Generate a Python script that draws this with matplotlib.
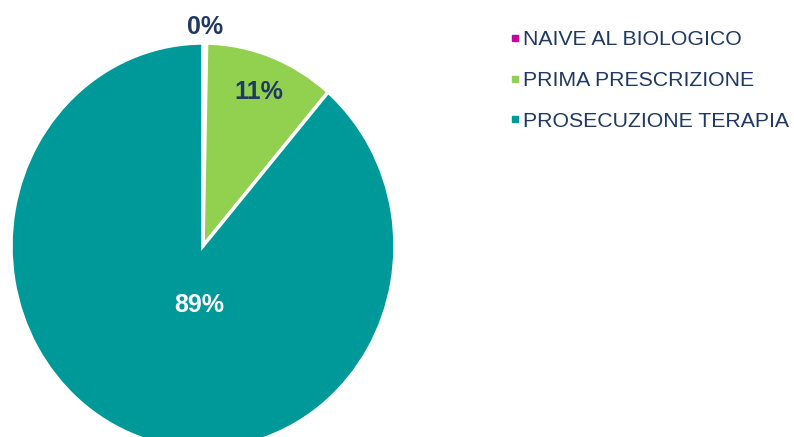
import numpy as np
import matplotlib
matplotlib.use('Agg')
from matplotlib import pyplot as plt
from matplotlib.lines import Line2D

plt.rcParams['font.family'] = ['Liberation Sans', 'DejaVu Sans']

categories = ['NAIVE AL BIOLOGICO', 'PRIMA PRESCRIZIONE', 'PROSECUZIONE TERAPIA']
values = [0.3, 11.0, 88.7]
colors = ['#CC0099', '#92D050', '#009999']
label_colors = ['#1F3864', '#1F3864', 'white']
label_dist = [1.08, 0.81, 0.33]
label_nudge = [(0, 0), (0, 0), (13, 3)]  # points

fig = plt.figure(figsize=(7.94, 4.37), dpi=100)
# pie is slightly stretched vertically: centre ~ (202, 246) px, 191 x 203 px radii
ax = fig.add_axes([11 / 794, -12 / 437, 384 / 794, 406 / 437])

wedges, _ = ax.pie(values, colors=colors, startangle=90, counterclock=False,
                   radius=1, wedgeprops=dict(edgecolor='white', linewidth=2.5))
ax.set_xlim(-1, 1)
ax.set_ylim(-1, 1)
ax.set_aspect('auto')
ax.axis('off')

total = sum(values)
for w, v, d, c, n in zip(wedges, values, label_dist, label_colors, label_nudge):
    ang = np.deg2rad((w.theta1 + w.theta2) / 2)
    x, y = d * np.cos(ang), d * np.sin(ang)
    ax.annotate(f'{round(v / total * 100):.0f}%', (x, y), xytext=n,
                textcoords='offset points', ha='center', va='center',
                fontsize=18, fontweight='bold', color=c, annotation_clip=False)

handles = [Line2D([], [], marker='s', linestyle='none', markersize=4.5,
                  markerfacecolor=c, markeredgecolor=c) for c in colors]
fig.legend(handles, categories, loc='upper left', bbox_to_anchor=(0.628, 0.955),
           frameon=False, fontsize=15.3, handlelength=0.5, handletextpad=0.15,
           labelspacing=1.02, labelcolor='#1F3864', borderpad=0)

fig.savefig('out.png', dpi=100)
